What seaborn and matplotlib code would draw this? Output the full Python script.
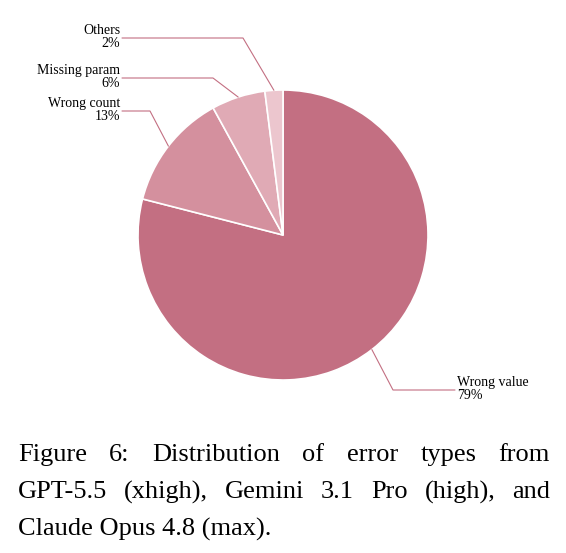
import numpy as np
import matplotlib.pyplot as plt
import seaborn as sns

labels = ["Wrong value", "Wrong count", "Missing param", "Others"]
shares = [79, 13, 6, 2]
colors = ["#c36f82", "#d4909e", "#e0aab5", "#ecc6ce"]

sns.set_style("white")
plt.rcParams["font.family"] = ["Liberation Serif", "DejaVu Serif"]
plt.rcParams["text.color"] = "black"

W, H = 566, 553
fig = plt.figure(figsize=(W / 100, H / 100), dpi=100)
ax = fig.add_axes([0, 0, 1, 1])

cx, cy, r = 283, H - 235, 145
wedges, _ = ax.pie(shares, colors=colors, startangle=90, counterclock=False,
                   center=(cx, cy), radius=r, frame=True,
                   wedgeprops=dict(edgecolor="white", linewidth=1.2))
ax.set_xlim(0, W)
ax.set_ylim(0, H)
ax.set_aspect("equal")
ax.axis("off")

# label layout: (elbow x, elbow y, text end x, side)
layout = {
    "Wrong value": (393, H - 390, 455, "right"),
    "Wrong count": (150, H - 111, 122, "left"),
    "Missing param": (213, H - 78, 122, "left"),
    "Others": (243, H - 38, 122, "left"),
}
line_col = "#c36f82"
for w, lab, s in zip(wedges, labels, shares):
    ang = np.deg2rad((w.theta1 + w.theta2) / 2)
    ex, ey = cx + r * np.cos(ang), cy + r * np.sin(ang)
    bx, by, tx, side = layout[lab]
    ax.plot([ex, bx, tx], [ey, by, by], color=line_col, lw=0.8)
    if side == "right":
        ax.text(tx + 2, by + 1, f"{lab}\n{s}%", ha="left", va="center",
                fontsize=10, linespacing=0.95)
    else:
        ax.text(tx - 2, by + 1, f"{lab}\n{s}%", ha="right", va="center",
                fontsize=10, linespacing=0.95)

# caption, first two lines justified between x=18 and x=550
caption = ["Figure 6:  Distribution of error types from",
           "GPT-5.5 (xhigh), Gemini 3.1 Pro (high), and",
           "Claude Opus 4.8 (max)."]
renderer = fig.canvas.get_renderer()
left, right = 18, 550
for i, line in enumerate(caption):
    y = 1 - (455 + 37 * i) / H
    if i == len(caption) - 1:
        fig.text(left / W, y, line, fontsize=19, ha="left", va="center")
        continue
    words = line.split()
    arts = [fig.text(0, y, wd, fontsize=19, ha="left", va="center") for wd in words]
    widths = [a.get_window_extent(renderer).width for a in arts]
    gap = (right - left - sum(widths)) / (len(words) - 1)
    x = left
    for a, wdt in zip(arts, widths):
        a.set_x(x / W)
        x += wdt + gap

fig.savefig("out.png", dpi=100)
